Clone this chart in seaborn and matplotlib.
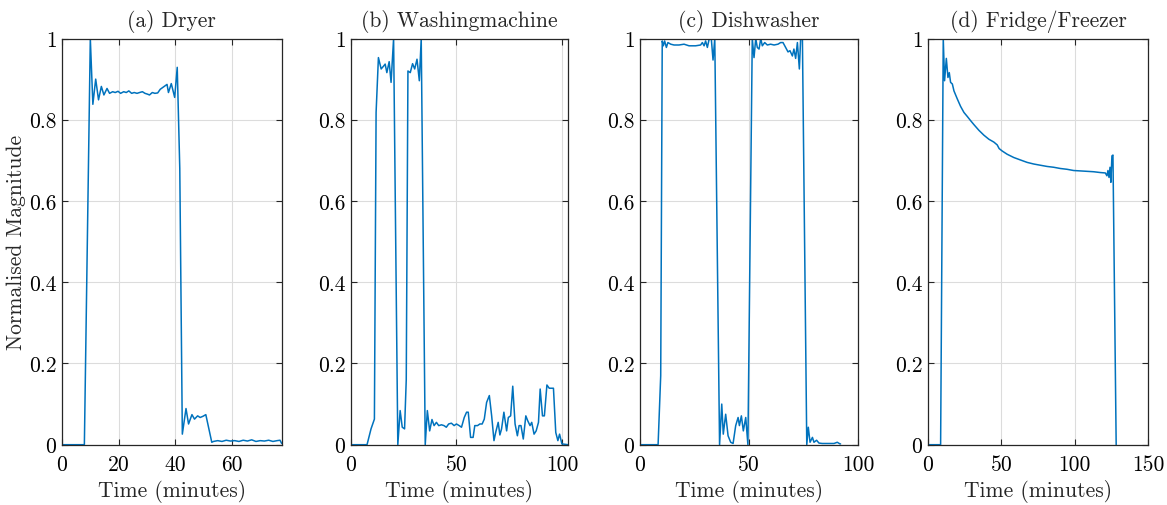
import matplotlib
matplotlib.use("Agg")
import matplotlib.pyplot as plt
import seaborn as sns
import pandas as pd
from matplotlib.ticker import FuncFormatter

# ---------------- data ----------------
titles = ["(a) Dryer", "(b) Washingmachine", "(c) Dishwasher", "(d) Fridge/Freezer"]
x_limits = [77.6, 102.9, 100, 150]
x_ticks = [[0, 20, 40, 60], [0, 50, 100], [0, 50, 100], [0, 50, 100, 150]]
y_ticks = [0, 0.2, 0.4, 0.6, 0.8, 1.0]

dryer_t = [0, 7.9, 10.0, 10.9, 11.9, 12.9, 13.9, 14.8, 15.9, 16.8, 17.9, 18.8, 19.8, 20.7,
           21.8, 22.7, 23.6, 24.6, 25.5, 26.5, 27.4, 28.4, 29.3, 30.2, 30.9, 31.9, 32.8,
           33.8, 34.7, 37.1, 37.6, 38.6, 39.8, 40.7, 41.6, 42.5, 43.8, 44.7, 45.9, 46.8,
           47.9, 48.8, 49.8, 50.8, 52.9, 53.5, 55.0, 56.5, 58.0, 59.5, 61.0, 62.5, 64.0,
           65.5, 67.0, 68.5, 70.0, 71.5, 73.0, 74.5, 76.0, 77.0, 77.6]
dryer_v = [0, 0, 1.0, 0.838, 0.90, 0.849, 0.882, 0.861, 0.877, 0.865, 0.869, 0.867, 0.870,
           0.865, 0.869, 0.867, 0.871, 0.865, 0.867, 0.865, 0.867, 0.869, 0.865, 0.863,
           0.861, 0.867, 0.865, 0.866, 0.875, 0.887, 0.867, 0.889, 0.855, 0.929, 0.68,
           0.026, 0.089, 0.051, 0.074, 0.063, 0.071, 0.067, 0.070, 0.074, 0.006, 0.008,
           0.010, 0.008, 0.011, 0.009, 0.010, 0.008, 0.011, 0.009, 0.012, 0.008, 0.010,
           0.009, 0.011, 0.008, 0.010, 0.011, 0.003]

washer_t = [0, 7.6, 9.5, 11.1, 11.9, 13.0, 14.3, 15.6, 16.2, 17.0, 18.1, 19.0, 20.2, 22.2,
            23.3, 24.3, 25.4, 26.2, 27.0, 28.1, 29.2, 30.2, 31.3, 32.4, 33.3, 35.2, 36.2,
            37.3, 38.4, 39.4, 40.5, 41.6, 42.9, 44.1, 45.2, 46.3, 47.6, 48.9, 50.0, 51.3,
            52.4, 53.7, 54.8, 55.6, 56.7, 57.9, 58.7, 60.0, 61.1, 62.2, 63.2, 64.3, 65.6,
            66.7, 67.8, 68.6, 69.8, 70.6, 71.4, 72.5, 73.8, 74.6, 75.7, 76.7, 77.8, 78.9,
            79.7, 80.6, 81.7, 82.9, 83.8, 84.9, 85.7, 86.8, 87.8, 88.9, 89.7, 90.8, 91.7,
            92.9, 94.0, 94.9, 96.0, 97.1, 98.1, 98.9, 100.0, 102.9]
washer_v = [0, 0, 0.039, 0.063, 0.818, 0.953, 0.925, 0.933, 0.937, 0.916, 0.943, 0.892,
            1.0, 0, 0.084, 0.043, 0.039, 0.16, 0.92, 0.916, 0.938, 0.925, 0.949, 0.896,
            1.0, 0, 0.084, 0.034, 0.062, 0.047, 0.055, 0.047, 0.049, 0.047, 0.043, 0.051,
            0.053, 0.047, 0.051, 0.047, 0.043, 0.067, 0.080, 0.080, 0.018, 0.018, 0.047,
            0.047, 0.051, 0.051, 0.063, 0.104, 0.121, 0.071, 0.010, 0.030, 0.055, 0.024,
            0.039, 0.080, 0.034, 0.067, 0.071, 0.144, 0.051, 0.022, 0.047, 0.047, 0.014,
            0.071, 0.059, 0.047, 0.055, 0.026, 0.034, 0.055, 0.137, 0.071, 0.071, 0.147,
            0.139, 0.139, 0.139, 0.030, 0.010, 0.026, 0.002, 0]

dish_t = [0, 8.3, 9.5, 10.2, 10.7, 11.3, 12.1, 12.8, 14.1, 15.6, 17.9, 20.2, 22.5, 25.5,
          27.8, 28.6, 29.4, 30.1, 30.9, 31.7, 32.7, 33.5, 34.3, 36.5, 37.5, 38.2, 39.3,
          40.4, 41.6, 42.7, 43.9, 45.0, 45.6, 46.5, 47.4, 48.5, 49.5, 51.5, 52.3, 53.1,
          53.8, 54.6, 55.4, 56.1, 57.2, 58.4, 59.9, 61.5, 63.3, 64.5, 65.6, 66.8, 67.9,
          68.8, 69.9, 70.6, 71.4, 72.2, 73.1, 73.7, 74.5, 76.5, 77.2, 78.0, 79.1, 79.8,
          81.0, 82.1, 83.6, 85.9, 89.0, 90.5, 91.7, 92.0]
dish_v = [0, 0, 0.17, 0.994, 0.982, 0.994, 0.978, 0.990, 0.986, 0.984, 0.984, 0.986, 0.982,
          0.982, 0.984, 0.990, 0.982, 0.994, 0.978, 0.998, 1.0, 0.947, 1.0, 0, 0.100,
          0.026, 0.075, 0.022, 0.006, 0.003, 0.047, 0.067, 0.047, 0.071, 0.034, 0.067, 0,
          1.0, 0.953, 1.0, 0.978, 0.974, 1.0, 0.982, 0.990, 0.984, 0.986, 0.984, 0.986,
          0.990, 0.990, 0.978, 0.967, 0.970, 0.957, 0.974, 0.951, 0.990, 0.925, 1.0, 1.0,
          0, 0.043, 0.006, 0.018, 0.006, 0.011, 0.004, 0.003, 0.003, 0.003, 0.006, 0.002,
          0.002]

fridge_t = [0, 8.6, 10.4, 11.3, 12.5, 13.6, 14.5, 15.4, 16.6, 17.7, 20.0, 22.2, 24.5, 26.8,
            29.0, 31.3, 34.7, 38.1, 41.5, 44.9, 47.2, 48.5, 50.6, 54.0, 58.5, 63.0, 67.6,
            72.1, 76.6, 81.2, 85.7, 90.2, 94.8, 99.3, 103.9, 108.4, 112.9, 117.5, 120.9,
            122.0, 122.7, 123.4, 124.1, 124.7, 125.4, 126.1, 128.3]
fridge_v = [0, 0, 1.0, 0.896, 0.951, 0.904, 0.916, 0.892, 0.888, 0.871, 0.851, 0.833,
            0.818, 0.808, 0.798, 0.788, 0.774, 0.762, 0.752, 0.745, 0.738, 0.729, 0.723,
            0.715, 0.707, 0.701, 0.695, 0.691, 0.688, 0.685, 0.683, 0.680, 0.678, 0.675,
            0.674, 0.673, 0.672, 0.670, 0.669, 0.662, 0.675, 0.658, 0.683, 0.646, 0.711,
            0.713, 0]

series = [(dryer_t, dryer_v), (washer_t, washer_v), (dish_t, dish_v), (fridge_t, fridge_v)]

# ---------------- style ----------------
sns.set_theme(style="white")
plt.rcParams["font.family"] = ["cmr10", "DejaVu Serif"]
plt.rcParams["mathtext.fontset"] = "cm"
plt.rcParams["axes.formatter.use_mathtext"] = True
plt.rcParams["axes.unicode_minus"] = False

W, H = 1167, 506
fig = plt.figure(figsize=(W / 100, H / 100), dpi=100)
fig.patch.set_facecolor("white")

lefts = [62, 351, 640, 928]
rights = [281.7, 568, 858, 1148]
top_px, bot_px = 39.5, 445.7

line_color = "#0072BD"
fmt = FuncFormatter(lambda v, p: "%g" % v)
fs = 15.5

for i, (t, v) in enumerate(series):
    ax = fig.add_axes([lefts[i] / W, 1 - bot_px / H, (rights[i] - lefts[i]) / W,
                       (bot_px - top_px) / H])
    df = pd.DataFrame({"t": t, "v": v})
    sns.lineplot(data=df, x="t", y="v", ax=ax, color=line_color, linewidth=1.1,
                 estimator=None, sort=False)
    ax.set_xlim(0, x_limits[i])
    ax.set_ylim(0, 1)
    ax.set_xticks(x_ticks[i])
    ax.set_yticks(y_ticks)
    ax.xaxis.set_major_formatter(fmt)
    ax.yaxis.set_major_formatter(fmt)
    ax.grid(True, color="#dcdcdc", linewidth=0.8)
    ax.set_axisbelow(True)
    ax.tick_params(direction="in", length=4, width=0.8, colors="#262626",
                   labelsize=fs, top=True, right=True, bottom=True, left=True,
                   labelcolor="black")
    ax.tick_params(axis="x", pad=7)
    ax.tick_params(axis="y", pad=4)
    for s in ax.spines.values():
        s.set_color("#262626")
        s.set_linewidth(0.9)
        s.set_visible(True)
    ax.set_title(titles[i], fontsize=fs, pad=9)
    ax.set_xlabel("Time (minutes)", fontsize=fs, labelpad=4)
    if i == 0:
        ax.set_ylabel("Normalised Magnitude", fontsize=fs)
        ax.yaxis.set_label_coords(-0.164, 0.5)
    else:
        ax.set_ylabel("")

fig.savefig("out.png", dpi=100, facecolor="white")
